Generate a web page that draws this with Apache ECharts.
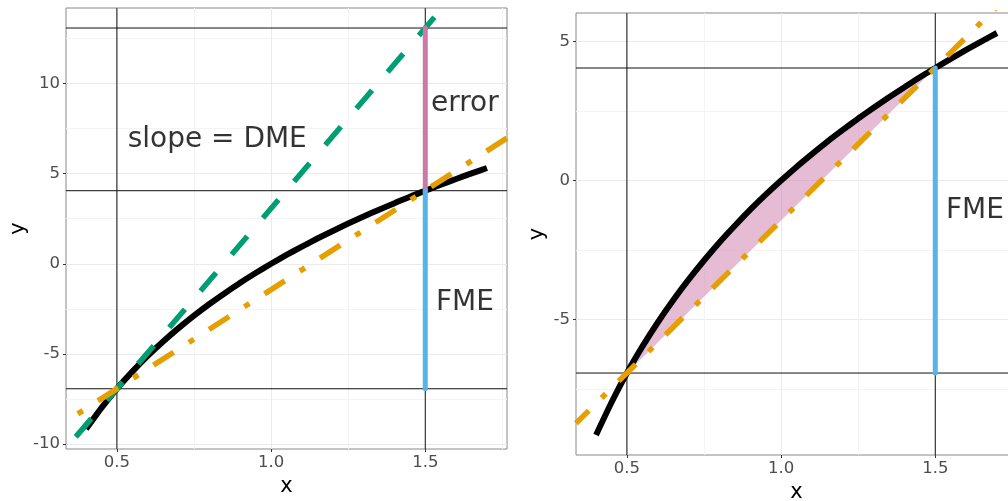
<!DOCTYPE html>
<html><head><meta charset="utf-8">
<script src="https://cdn.jsdelivr.net/npm/echarts@6/dist/echarts.min.js"></script>
<style>html,body{margin:0;padding:0;background:#fff;overflow:hidden;}#c{width:1008px;height:501px;}</style>
</head><body><div id="c"></div>
<script>
// ---- data ----
const curveX = [0.40,0.45,0.50,0.55,0.60,0.65,0.70,0.75,0.80,0.85,0.90,0.95,1.00,1.05,1.10,1.15,1.20,1.25,1.30,1.35,1.40,1.45,1.50,1.55,1.60,1.65,1.70];
const curveY = [-9.16,-7.99,-6.93,-5.98,-5.11,-4.31,-3.57,-2.88,-2.23,-1.63,-1.05,-0.51,0.00,0.49,0.95,1.40,1.82,2.23,2.62,3.00,3.36,3.72,4.05,4.38,4.70,5.01,5.31];
const tangentX = [0.335, 1.60];
const tangentY = [-10.23, 15.07];
const secantX = [0.335, 1.765];
const secantY = [-8.74, 6.97];
const hLinesLeft = [-6.93, 4.05, 13.07];
const hLinesRight = [-6.93, 4.05];
const vLines = [0.5, 1.5];
const fmeX = 1.5;
const fmeY = [-6.93, 4.05];
const errorY = [4.05, 13.07];
const fillFrom = 0.5, fillTo = 1.5;
const xRange = [0.335, 1.765];
const yRangeLeft = [-10.27, 14.18];
const yRangeRight = [-9.88, 6.03];
const xTicks = [0.5, 1.0, 1.5];
const yTicksLeft = [-10, -5, 0, 5, 10];
const yTicksRight = [-5, 0, 5];
const labelsLeft = [[0.827, 7, 'slope = DME'], [1.63, 9, 'error'], [1.63, -2, 'FME']];
const labelsRight = [[1.63, -1, 'FME']];

// ---- styling ----
const FONT = 'DejaVu Sans';
const C = {green:'#009E73', orange:'#E69F00', pink:'#CC79A7', blue:'#56B4E9'};

function pairs(xs, ys){ return xs.map((x,i)=>[x, ys[i]]); }
const curve = pairs(curveX, curveY);

function xAxisDef(g, gap){
  return {gridIndex:g, type:'value', min:xRange[0], max:xRange[1], splitNumber:3,
    axisLine:{show:false, onZero:false},
    axisTick:{show:true, length:3, customValues:xTicks, lineStyle:{color:'#333', width:1}},
    axisLabel:{fontFamily:FONT, fontSize:16.5, color:'#4D4D4D', margin:5, customValues:xTicks,
      formatter:v=>Number(v).toFixed(1)},
    splitLine:{show:true, lineStyle:{color:'#EBEBEB', width:1}},
    minorTick:{show:false, splitNumber:2},
    minorSplitLine:{show:true, lineStyle:{color:'#F4F4F4', width:1}},
    name:'x', nameLocation:'middle', nameGap:gap,
    nameTextStyle:{fontFamily:FONT, fontSize:21, color:'#000'}};
}
function yAxisDef(g, rng, sn, ticks, gap){
  return {gridIndex:g, type:'value', min:rng[0], max:rng[1], splitNumber:sn,
    axisLine:{show:false, onZero:false},
    axisTick:{show:true, length:3, customValues:ticks, lineStyle:{color:'#333', width:1}},
    axisLabel:{fontFamily:FONT, fontSize:16.5, color:'#4D4D4D', margin:6, customValues:ticks,
      formatter:v=>String(Math.round(v))},
    splitLine:{show:true, lineStyle:{color:'#EBEBEB', width:1}},
    minorTick:{show:false, splitNumber:2},
    minorSplitLine:{show:true, lineStyle:{color:'#F4F4F4', width:1}},
    name:'y', nameLocation:'middle', nameGap:gap, nameRotate:90,
    nameTextStyle:{fontFamily:FONT, fontSize:21, color:'#000'}};
}
function lineSeries(g, data, style, extra){
  return Object.assign({type:'line', xAxisIndex:g, yAxisIndex:g, data:data, symbol:'none',
    showSymbol:false, silent:true, animation:false, clip:true, lineStyle:style}, extra||{});
}
function refSeries(g, hs){
  const out = [];
  hs.forEach(v=>out.push(lineSeries(g, [[xRange[0],v],[xRange[1],v]], {color:'#111', width:1})));
  const yr = g===0 ? yRangeLeft : yRangeRight;
  vLines.forEach(v=>out.push(lineSeries(g, [[v,yr[0]],[v,yr[1]]], {color:'#111', width:1})));
  return out;
}
function labelSeries(g, labels){
  return {type:'scatter', xAxisIndex:g, yAxisIndex:g, data:labels, symbolSize:1, silent:true, animation:false,
    itemStyle:{color:'rgba(0,0,0,0)'},
    label:{show:true, position:[0,0], align:'center', verticalAlign:'middle', offset:[0,3],
      formatter:p=>p.value[2], fontFamily:FONT, fontSize:28, color:'#000',
      textBorderWidth:0, textShadowBlur:0}};
}
const fillPts = curve.filter(p=>p[0]>=fillFrom-1e-9 && p[0]<=fillTo+1e-9);
const fillSeries = {type:'custom', xAxisIndex:1, yAxisIndex:1, data:[[fillFrom, 0]], silent:true, animation:false,
  renderItem:(params, api)=>{
    const pts = fillPts.map(p=>api.coord(p));
    return {type:'polygon', shape:{points:pts}, style:{fill:'rgba(204,121,167,0.5)', stroke:null}};
  }};

const series = [];
// left panel
series.push(...refSeries(0, hLinesLeft));
series.push(lineSeries(0, curve, {color:'#000', width:6, cap:'butt'}, {smooth:0.2}));
series.push(lineSeries(0, pairs(tangentX, tangentY), {color:C.green, width:5.5, type:[24,24], dashOffset:33}));
series.push(lineSeries(0, pairs(secantX, secantY), {color:C.orange, width:5.5, type:[6,18,24,18], dashOffset:52}));
series.push(lineSeries(0, [[fmeX, errorY[0]],[fmeX, errorY[1]]], {color:C.pink, width:5, cap:'round'}));
series.push(lineSeries(0, [[fmeX, fmeY[0]],[fmeX, fmeY[1]]], {color:C.blue, width:5, cap:'round'}));
series.push(labelSeries(0, labelsLeft));
// right panel
series.push(...refSeries(1, hLinesRight));
series.push(fillSeries);
series.push(lineSeries(1, curve, {color:'#000', width:6, cap:'butt'}, {smooth:0.2}));
series.push(lineSeries(1, pairs(secantX, secantY), {color:C.orange, width:5.5, type:[6,18,24,18], dashOffset:30}));
series.push(lineSeries(1, [[fmeX, fmeY[0]],[fmeX, fmeY[1]]], {color:C.blue, width:5, cap:'round'}));
series.push(labelSeries(1, labelsRight));

const chart = echarts.init(document.getElementById('c'), null, {renderer:'canvas'});
chart.setOption({
  animation:false,
  backgroundColor:'#fff',
  textStyle:{fontFamily:FONT},
  grid:[
    {left:66, top:8, width:441, height:441, show:true, borderColor:'#888', borderWidth:1, backgroundColor:'transparent', containLabel:false, outerBoundsMode:'none'},
    {left:576, top:13, width:441, height:442, show:true, borderColor:'#888', borderWidth:1, backgroundColor:'transparent', containLabel:false, outerBoundsMode:'none'}
  ],
  xAxis:[xAxisDef(0, 26), xAxisDef(1, 26)],
  yAxis:[yAxisDef(0, yRangeLeft, 5, yTicksLeft, 36), yAxisDef(1, yRangeRight, 3, yTicksRight, 28)],
  series:series
});
</script></body></html>
